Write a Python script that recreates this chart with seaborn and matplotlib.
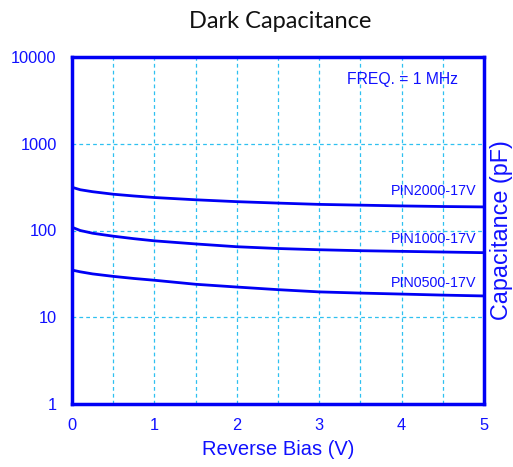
import matplotlib
matplotlib.use("Agg")
import matplotlib.pyplot as plt
import seaborn as sns
import pandas as pd
from matplotlib.ticker import FixedLocator, FixedFormatter, NullLocator

sns.set_style("white")
plt.rcParams['font.family'] = ['Liberation Sans', 'DejaVu Sans']

bias = [0, 0.1, 0.25, 0.5, 0.75, 1, 1.5, 2, 2.5, 3, 3.5, 4, 4.5, 5]
pin2000 = [315, 295, 280, 262, 250, 240, 226, 215, 207, 200, 196, 192, 189, 187]
pin1000 = [109, 100, 93, 86, 80.5, 76, 70, 65, 62, 60, 58.5, 57.5, 56.5, 55.5]
pin0500 = [35, 33.4, 31.6, 29.6, 28, 26.7, 24, 22.3, 20.8, 19.6, 19, 18.5, 18, 17.6]
series = ["PIN2000-17V", "PIN1000-17V", "PIN0500-17V"]
label_pos = [285, 80, 24.8]
yticks = [1, 10, 100, 1000, 10000]
ytick_labels = ["1", "10", "100", "1000", "10000"]
xticks = [0, 1, 2, 3, 4, 5]

rows = []
for name, vals in zip(series, [pin2000, pin1000, pin0500]):
    for b, v in zip(bias, vals):
        rows.append({"bias": b, "cap": v, "device": name})
df = pd.DataFrame(rows)

blue = "#0000f5"
txt = "#1010ff"
grid = "#2ec0f0"

fig = plt.figure(figsize=(5.13, 4.67), dpi=100)
ax = fig.add_axes([72/513, 1-404/467, (484-72)/513, (404-57)/467])
sns.lineplot(data=df, x="bias", y="cap", units="device", estimator=None,
             color=blue, linewidth=2, ax=ax, legend=False)
ax.set_yscale("log")
ax.set_xlim(0, 5)
ax.set_ylim(1, 10000)
ax.yaxis.set_major_locator(FixedLocator(yticks))
ax.yaxis.set_major_formatter(FixedFormatter(ytick_labels))
ax.yaxis.set_minor_locator(NullLocator())
ax.xaxis.set_major_locator(FixedLocator(xticks))
ax.tick_params(axis="both", colors=txt, labelsize=11.8, length=0)
ax.tick_params(axis="y", pad=11)
ax.tick_params(axis="x", pad=10)
for x in [0.5, 1, 1.5, 2, 2.5, 3, 3.5, 4, 4.5]:
    ax.axvline(x, color=grid, linestyle=(0, (3, 2.5)), linewidth=0.9, zorder=0)
for y in [10, 100, 1000]:
    ax.axhline(y, color=grid, linestyle=(0, (3, 2.5)), linewidth=0.9, zorder=0)
for s in ax.spines.values():
    s.set_color(blue)
    s.set_linewidth(2.5)

ax.set_xlabel("Reverse Bias (V)", color=txt, fontsize=14.5, labelpad=5)
ax.set_ylabel("Capacitance (pF)", color=txt, fontsize=16.8, labelpad=4)
ax.yaxis.set_label_position("right")

for name, ly in zip(series, label_pos):
    ax.text(4.903, ly, name, color=txt, fontsize=10.3, ha="right", va="center")
ax.text(4.685, 5575, "FREQ. = 1 MHz", color=txt, fontsize=11.3, ha="right", va="center")

fig.suptitle("Dark Capacitance", x=280/513, y=1-21/467, va="center",
             fontsize=17, color="#111111", fontfamily="Lato")
fig.savefig("out.png", dpi=100)
